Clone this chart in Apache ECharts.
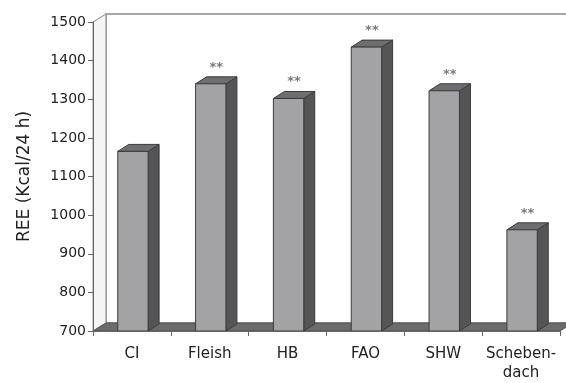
<!DOCTYPE html>
<html>
<head>
<meta charset="utf-8">
<script src="https://cdn.jsdelivr.net/npm/echarts@6/dist/echarts.min.js"></script>
<style>
  html, body { margin: 0; padding: 0; background: #fff; }
  #chart { width: 566px; height: 383px; }
</style>
</head>
<body>
<div id="chart"></div>
<script>
// data
var categories = ['CI', 'Fleish', 'HB', 'FAO', 'SHW', 'Scheben-\ndach']
var reeValues = [1165, 1340, 1302, 1435, 1322, 962]
var significance = ['', '**', '**', '**', '**', '**']
var yMin = 700
var yMax = 1500

// 3d look
var barDepth = [11, -7]
var wallDepth = [13, -8]

var chart = echarts.init(document.getElementById('chart'))

function renderWalls(params, api) {
  var cs = params.coordSys
  var x0 = cs.x, x1 = cs.x + cs.width
  var yt = cs.y, yb = cs.y + cs.height
  var dx = wallDepth[0], dy = wallDepth[1]
  return {
    type: 'group',
    silent: true,
    children: [
      {
        type: 'rect',
        shape: { x: x0 + dx, y: yt + dy, width: cs.width, height: cs.height },
        style: { fill: '#fff', stroke: '#8a8a8a', lineWidth: 1.5 }
      },
      {
        type: 'polygon',
        shape: { points: [[x0, yb], [x0, yt], [x0 + dx, yt + dy], [x0 + dx, yb + dy]] },
        style: { fill: '#f4f4f4', stroke: '#8a8a8a', lineWidth: 1 }
      },
      {
        type: 'polygon',
        shape: { points: [[x0, yb], [x1, yb], [x1 + dx, yb + dy], [x0 + dx, yb + dy]] },
        style: { fill: '#6b6b6d', stroke: '#555', lineWidth: 1 }
      }
    ]
  }
}

function renderBar(params, api) {
  var idx = api.value(0)
  var top = api.coord([idx, api.value(1)])
  var base = api.coord([idx, yMin])
  var band = api.size([1, 0])[0]
  var w = band * 0.39
  var xl = top[0] - w / 2 + 1
  var xr = xl + w
  var dx = barDepth[0], dy = barDepth[1]
  var edge = { stroke: '#3c3c3e', lineWidth: 1, lineJoin: 'round' }
  return {
    type: 'group',
    children: [
      {
        type: 'polygon',
        shape: { points: [[xr, top[1]], [xr + dx, top[1] + dy], [xr + dx, base[1] + dy], [xr, base[1]]] },
        style: Object.assign({ fill: '#555557' }, edge)
      },
      {
        type: 'polygon',
        shape: { points: [[xl, top[1]], [xl + dx, top[1] + dy], [xr + dx, top[1] + dy], [xr, top[1]]] },
        style: Object.assign({ fill: '#6e6e70' }, edge)
      },
      {
        type: 'rect',
        shape: { x: xl, y: top[1], width: w, height: base[1] - top[1] },
        style: Object.assign({ fill: '#a3a3a6' }, edge)
      },
      {
        type: 'text',
        style: {
          text: significance[idx],
          x: (xl + xr) / 2 + dx / 2,
          y: top[1] + dy - 3,
          align: 'center',
          verticalAlign: 'bottom',
          fill: '#7a7a7a',
          font: 'bold 13px "DejaVu Sans"'
        }
      }
    ]
  }
}

var option = {
  backgroundColor: '#fff',
  animation: false,
  textStyle: { fontFamily: 'DejaVu Sans' },
  grid: { left: 93, right: 6, top: 22, bottom: 51 },
  xAxis: {
    type: 'category',
    data: categories,
    axisLine: { show: true, lineStyle: { color: '#666' } },
    axisTick: { show: true, alignWithLabel: false, length: 5, lineStyle: { color: '#666' } },
    axisLabel: { color: '#222', fontSize: 15, margin: 14, lineHeight: 19, interval: 0 },
    z: 10
  },
  yAxis: {
    type: 'value',
    min: yMin,
    max: yMax,
    interval: 100,
    name: 'REE (Kcal/24 h)',
    nameLocation: 'middle',
    nameGap: 60,
    nameTextStyle: { color: '#222', fontSize: 17 },
    axisLine: { show: true, lineStyle: { color: '#666' } },
    axisTick: { show: true, length: 5, lineStyle: { color: '#666' } },
    axisLabel: { color: '#222', fontSize: 14, margin: 7, formatter: function (v) { return String(v) } },
    splitLine: { show: false },
    z: 10
  },
  series: [
    {
      type: 'custom',
      renderItem: renderWalls,
      data: [[0, yMin]],
      z: 1,
      silent: true
    },
    {
      type: 'custom',
      renderItem: renderBar,
      data: reeValues.map(function (v, i) { return [i, v] }),
      encode: { x: 0, y: 1 },
      z: 2
    }
  ]
}

chart.setOption(option)
</script>
</body>
</html>
